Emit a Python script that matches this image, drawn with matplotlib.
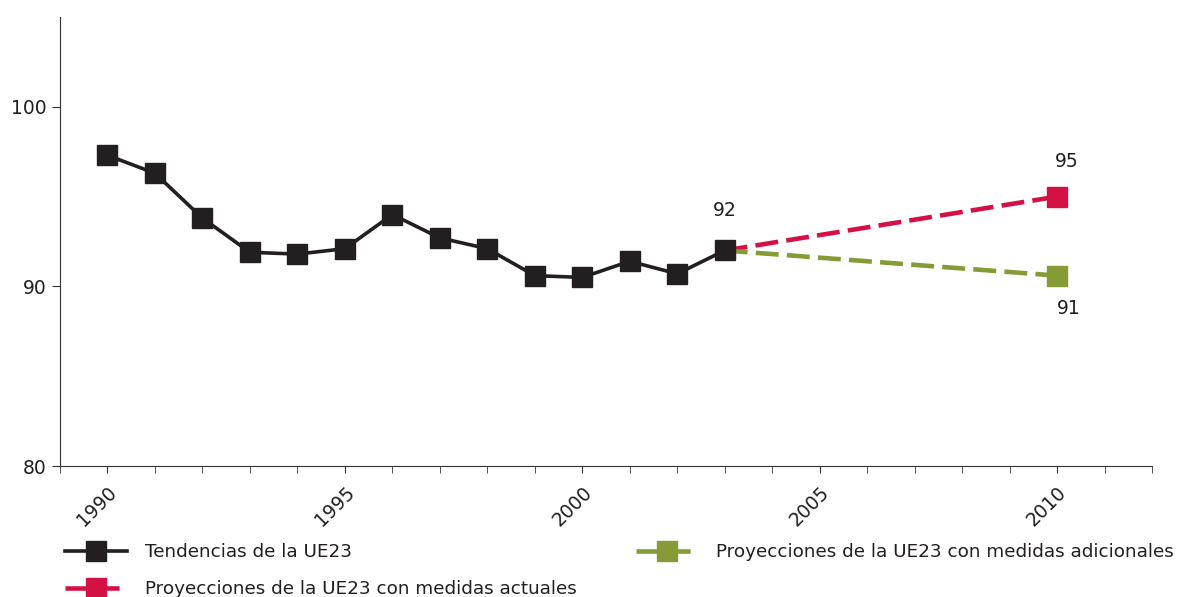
import matplotlib.pyplot as plt
from matplotlib.ticker import MultipleLocator

years = [1990, 1991, 1992, 1993, 1994, 1995, 1996, 1997, 1998, 1999, 2000, 2001, 2002, 2003]
trend = [97.3, 96.3, 93.8, 91.9, 91.8, 92.1, 94.0, 92.7, 92.1, 90.6, 90.5, 91.4, 90.7, 92.0]

proj_years = [2003, 2010]
proj_current = [92.0, 95.0]
proj_additional = [92.0, 90.6]

labels = ['Tendencias de la UE23',
          'Proyecciones de la UE23 con medidas actuales',
          'Proyecciones de la UE23 con medidas adicionales']

black = '#231f20'
red = '#d31145'
green = '#849b36'

plt.rcParams['font.family'] = ['DejaVu Sans']
plt.rcParams['font.size'] = 13.5
plt.rcParams['text.color'] = black

fig = plt.figure(figsize=(11.79, 5.97), dpi=100)
ax = fig.add_axes([60 / 1179, 131 / 597, 1092 / 1179, 449 / 597])

ax.plot(proj_years, proj_current, color=red, lw=3.3, ls=(0, (5, 1.8)),
        marker='s', ms=15, markevery=[1], label=labels[1])
ax.plot(proj_years, proj_additional, color=green, lw=3.3, ls=(0, (5, 1.8)),
        marker='s', ms=15, markevery=[1], label=labels[2])
ax.plot(years, trend, color=black, lw=2.6, marker='s', ms=15,
        label=labels[0], zorder=3)

ax.text(years[-1], trend[-1] + 1.7, '92', ha='center', va='bottom')
ax.text(proj_years[-1] + 0.2, proj_current[-1] + 1.4, '95', ha='center', va='bottom')
ax.text(proj_years[-1] + 0.25, proj_additional[-1] - 1.3, '91', ha='center', va='top')

ax.set_xlim(1989, 2012)
ax.set_ylim(80, 105)
ax.set_yticks([80, 90, 100])
ax.xaxis.set_major_locator(MultipleLocator(5))
ax.xaxis.set_minor_locator(MultipleLocator(1))
ax.tick_params(axis='x', which='both', length=5, color='#333333', rotation=45, pad=7,
               labelcolor=black)
ax.tick_params(axis='y', length=6, color='#333333', labelcolor=black)
for lab in ax.get_xticklabels():
    lab.set_ha('right')
    lab.set_rotation_mode('anchor')
ax.spines['top'].set_visible(False)
ax.spines['right'].set_visible(False)
ax.spines['left'].set_color('#333333')
ax.spines['bottom'].set_color('#333333')

h, l = ax.get_legend_handles_labels()
order = [2, 0, 1]
fig.legend([h[i] for i in order], [l[i] for i in order], ncol=2,
           loc='lower left', bbox_to_anchor=(48 / 1179, -0.030), frameon=False,
           prop={'size': 13.2},
           handlelength=3.4, handletextpad=1.0, labelspacing=1.05, columnspacing=3.2)

fig.savefig('out.png', dpi=100)
